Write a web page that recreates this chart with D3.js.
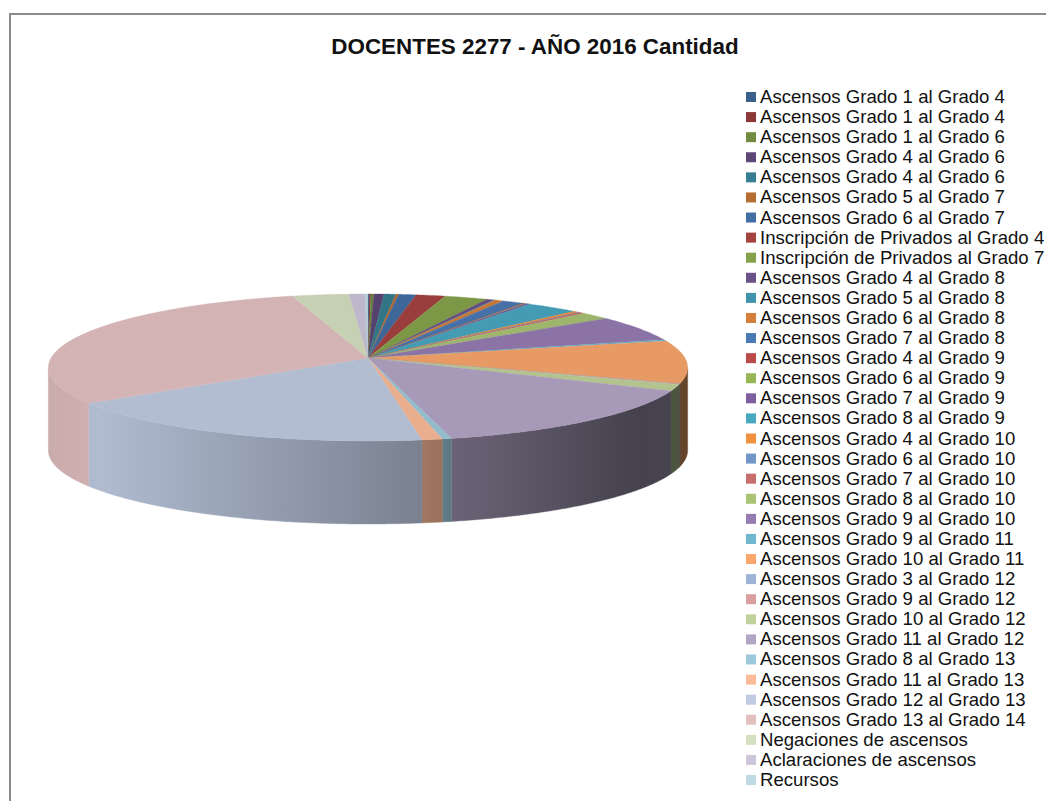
<!DOCTYPE html>
<html>
<head>
<meta charset="utf-8">
<script src="https://cdn.jsdelivr.net/npm/d3@7"></script>
<style>
html,body{margin:0;padding:0;background:#fff;overflow:hidden}
svg{display:block}
text{font-family:"Liberation Sans",Arial,sans-serif;fill:#111}
</style>
</head>
<body>
<svg id="c" width="1046" height="801"></svg>
<script>
const chartTitle = "DOCENTES 2277 - AÑO 2016 Cantidad";
const categories = [
"Ascensos Grado 1 al Grado 4","Ascensos Grado 1 al Grado 4","Ascensos Grado 1 al Grado 6",
"Ascensos Grado 4 al Grado 6","Ascensos Grado 4 al Grado 6","Ascensos Grado 5 al Grado 7",
"Ascensos Grado 6 al Grado 7","Inscripción de Privados al Grado 4","Inscripción de Privados al Grado 7",
"Ascensos Grado 4 al Grado 8","Ascensos Grado 5 al Grado 8","Ascensos Grado 6 al Grado 8",
"Ascensos Grado 7 al Grado 8","Ascensos Grado 4 al Grado 9","Ascensos Grado 6 al Grado 9",
"Ascensos Grado 7 al Grado 9","Ascensos Grado 8 al Grado 9","Ascensos Grado 4 al Grado 10",
"Ascensos Grado 6 al Grado 10","Ascensos Grado 7 al Grado 10","Ascensos Grado 8 al Grado 10",
"Ascensos Grado 9 al Grado 10","Ascensos Grado 9 al Grado 11","Ascensos Grado 10 al Grado 11",
"Ascensos Grado 3 al Grado 12","Ascensos Grado 9 al Grado 12","Ascensos Grado 10 al Grado 12",
"Ascensos Grado 11 al Grado 12","Ascensos Grado 8 al Grado 13","Ascensos Grado 11 al Grado 13",
"Ascensos Grado 12 al Grado 13","Ascensos Grado 13 al Grado 14","Negaciones de ascensos",
"Aclaraciones de ascensos","Recursos"];
const values = [1,1,2,7,8,2,12,20,30,5,1,6,15,1,1,3,36,4,1,4,20,70,4,113,1,1,17,171,5,11,211,367,39,11,2];
const colors = ["#3A5F8B","#8C3836","#718B3F","#5C4776","#357E91","#B66D31","#426FA3","#A54340","#85A24B",
"#6D5289","#3F93AB","#D57F3A","#4A7AB5","#BA4B48","#97B655","#7D5F9F","#48A8C0","#F0913F","#7295C8",
"#C86E6C","#AAC474","#957CB1","#6FB8CF","#F9A66C","#9FB3D6","#D9A09F","#C0D29B","#B2A6C6","#9DC9DA",
"#FBBB98","#BFCBE2","#E3C0C0","#D5E0C1","#CDC6DA","#BEDBE5"];

const svg = d3.select("#c");
const defs = svg.append("defs");

// frame
svg.append("path").attr("d","M10 801V14H1046").attr("fill","none").attr("stroke","#8c8c8c").attr("stroke-width",2);

// title
svg.append("text").attr("x",535).attr("y",54).attr("text-anchor","middle")
  .attr("font-size",22.4).attr("font-weight","bold").text(chartTitle);

// perspective projection of the pie disc
const cx = 368, cy = 358, k = 0.129, c = 317, a = 72.3, depth = 83;
function project(theta){
  const u = Math.sin(theta), v = -Math.cos(theta), w = 1 - k*v;
  return [cx + c*u/w, cy + a*v/w];
}
const line = d3.line();
const pie = d3.pie().sort(null).startAngle(0).endAngle(2*Math.PI).padAngle(0)(values);
const shadeX = [48,100,420,453,640,690], shadeF = [.89,.92,.64,.60,.39,.41];
function shade(col,f){const r=d3.rgb(col);return d3.rgb(r.r*f,r.g*f,r.b*f).formatHex();}
const STEP = Math.PI/360;
const sweep = (a0,a1)=>{const n=Math.max(2,Math.ceil((a1-a0)/STEP));return d3.range(n+1).map(i=>a0+(a1-a0)*i/n);};

// side wall: each slice filled with a left-to-right shaded gradient
const wallLo = 97.4*Math.PI/180, wallHi = 262.6*Math.PI/180;
const gWall = svg.append("g");
pie.forEach(d=>{
  const lo = Math.max(d.startAngle, wallLo), hi = Math.min(d.endAngle, wallHi);
  if(hi<=lo) return;
  const col = colors[d.index], id = "w"+d.index;
  const g = defs.append("linearGradient").attr("id",id).attr("gradientUnits","userSpaceOnUse")
    .attr("x1",shadeX[0]).attr("x2",shadeX[shadeX.length-1]).attr("y1",0).attr("y2",0);
  shadeX.forEach((x,i)=>g.append("stop")
    .attr("offset",(x-shadeX[0])/(shadeX[shadeX.length-1]-shadeX[0]))
    .attr("stop-color",shade(col,shadeF[i])));
  const rim = sweep(lo,hi).map(project);
  const bottom = rim.map(p=>[p[0],p[1]+depth]).reverse();
  gWall.append("path").attr("d",line(rim.concat(bottom))+"Z")
    .attr("fill",`url(#${id})`).attr("stroke",`url(#${id})`).attr("stroke-width",.4);
});

// top face
const gTop = svg.append("g");
pie.forEach(d=>{
  const pts = [[cx,cy]].concat(sweep(d.startAngle,d.endAngle).map(project));
  const s = shade(colors[d.index],.93);
  gTop.append("path").attr("d",line(pts)+"Z").attr("fill",s).attr("stroke",s).attr("stroke-width",.3);
});

// legend
const legendY = d3.scalePoint().domain(d3.range(categories.length)).range([97,780]);
const lg = svg.append("g").selectAll("g").data(categories).join("g")
  .attr("transform",(d,i)=>`translate(746,${legendY(i)})`);
lg.append("rect").attr("x",0).attr("y",-5).attr("width",10).attr("height",10).attr("fill",(d,i)=>colors[i]);
lg.append("text").attr("x",14).attr("y",6).attr("font-size",18.6).text(d=>d);
</script>
</body>
</html>
